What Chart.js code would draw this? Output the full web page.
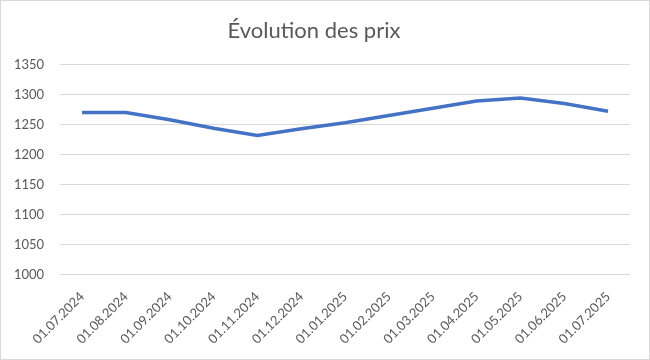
<!DOCTYPE html>
<html>
<head>
<meta charset="utf-8">
<script src="https://cdn.jsdelivr.net/npm/chart.js@4/dist/chart.umd.min.js"></script>
<style>
    body { margin: 0; background: #fff; }
    #wrap { width: 648px; height: 358px; border: 1px solid #d9d9d9; position: relative; }
</style>
</head>
<body>
<div id="wrap"><canvas id="prix"></canvas></div>
<script>
const dates = ['01.07.2024', '01.08.2024', '01.09.2024', '01.10.2024', '01.11.2024', '01.12.2024',
    '01.01.2025', '01.02.2025', '01.03.2025', '01.04.2025', '01.05.2025', '01.06.2025', '01.07.2025'];
const prix = [1270, 1270, 1258, 1244, 1232, 1243, 1253, 1265, 1277, 1289, 1294, 1285, 1272];

const yMin = 1000;
const yMax = 1350;
const yStep = 50;

const ctx = document.getElementById('prix');

new Chart(ctx, {
    type: 'line',
    data: {
        labels: dates,
        datasets: [{
            label: 'Prix',
            data: prix,
            borderColor: '#4472C4',
            backgroundColor: '#4472C4',
            borderWidth: 3.5,
            pointRadius: 0,
            tension: 0,
            fill: false
        }]
    },
    options: {
        responsive: true,
        maintainAspectRatio: false,
        animation: false,
        layout: { padding: { left: -3, right: 19, top: 11, bottom: 6 } },
        plugins: {
            legend: { display: false },
            tooltip: { enabled: false },
            title: {
                display: true,
                text: 'Évolution des prix',
                color: '#595959',
                font: { family: 'Lato', size: 22, weight: 'normal' },
                padding: { top: 6, bottom: 20 }
            }
        },
        scales: {
            x: {
                offset: true,
                grid: { display: false },
                border: { display: false },
                afterFit: function(scale) {
                    scale.paddingLeft = 0;
                    scale.paddingRight = 0;
                },
                ticks: {
                    color: '#595959',
                    font: { family: 'Lato', size: 13 },
                    maxRotation: 45,
                    minRotation: 45,
                    autoSkip: false,
                    padding: 6
                }
            },
            y: {
                min: yMin,
                max: yMax,
                grid: { color: '#d9d9d9', drawTicks: false },
                border: { display: false },
                ticks: {
                    stepSize: yStep,
                    color: '#595959',
                    font: { family: 'Lato', size: 13 },
                    padding: 16,
                    callback: function(value) {
                        return value;
                    }
                }
            }
        }
    }
});
</script>
</body>
</html>
